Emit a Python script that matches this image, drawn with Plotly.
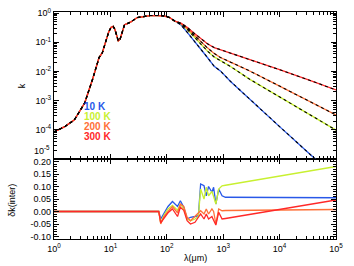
import plotly.graph_objects as go

# ---------------- data ----------------
# common part of k(lambda) (all temperatures identical)
lam_common = [1, 1.58, 2.3, 3.5, 4.8, 6.3, 7.2, 8.3, 9.3, 10.2, 11.2, 12, 12.9, 13.8, 14.8,
              15.8, 17.8, 20, 23, 30, 40, 51, 68, 89, 112]
k_common = [8.5e-5, 1.32e-4, 2.2e-4, 8.3e-4, 5.2e-3, 0.030, 0.044, 0.112, 0.224, 0.32, 0.35,
            0.28, 0.178, 0.112, 0.126, 0.19, 0.40, 0.44, 0.50, 0.71, 0.79, 0.83, 0.83, 0.81, 0.71]

lam_tail = [135, 178, 229, 302, 398, 525, 692, 891, 1349, 3020, 10000, 31623, 100000]
k_10K = [0.55, 0.398, 0.224, 0.117, 0.0603, 0.0302, 0.0151, 0.0105, 0.00457, 0.00107,
         1.29e-4, 1.70e-5, 2.29e-6]
k_100K = [0.55, 0.427, 0.282, 0.158, 0.0891, 0.0501, 0.0316, 0.0234, 0.0148, 0.00525,
          0.00132, 3.55e-4, 9.8e-5]
k_200K = [0.55, 0.437, 0.302, 0.182, 0.107, 0.0646, 0.0417, 0.0302, 0.0209, 0.0102,
          0.00316, 0.001, 3.24e-4]
k_300K = [0.55, 0.457, 0.331, 0.209, 0.135, 0.0891, 0.0661, 0.0562, 0.0427, 0.0257,
          0.0115, 0.00525, 0.00234]

# bottom panel: delta k (inter)
lam_d = [1, 72, 78, 89, 105, 126, 155, 174, 200, 229, 263, 316, 363, 398, 457, 501, 550,
         631, 676, 741, 832, 955, 1096, 100000]
dk_10K = [0, 0, -0.03, -0.005, 0.02, 0.04, 0.02, 0.043, 0.017, -0.03, -0.023, -0.02, -0.017,
          0.11, 0.103, 0.063, 0.10, 0.077, 0.097, 0.03, 0.09, 0.063, 0.057, 0.055]
dk_100K = [0, 0, -0.045, -0.015, 0.01, 0.025, 0.005, 0.03, 0.01, -0.03, -0.037, -0.03, -0.02,
           0.09, 0.05, 0.097, 0.063, 0.08, 0.06, 0.03, 0.09, 0.103, 0.105, 0.18]
dk_200K = [0, 0, -0.05, -0.02, 0.0, 0.02, -0.005, 0.03, 0.02, -0.023, -0.037, -0.02, -0.003,
           0.003, -0.01, 0.01, -0.01, 0.01, 0.0, -0.05, 0.01, 0.003, 0.004, 0.008]
dk_300K = [0, 0, -0.045, -0.025, -0.005, 0.01, -0.02, 0.017, 0.005, -0.037, -0.05, -0.043,
           -0.023, -0.01, -0.03, -0.01, -0.03, -0.02, -0.035, -0.054, -0.003, -0.03, -0.028, 0.046]

labels = ["10 K", "100 K", "200 K", "300 K"]
colors = ["#2858e8", "#c8f030", "#ff7038", "#ff2828"]

# ---------------- figure ----------------
fig = go.Figure()
series_k = [k_10K, k_100K, k_200K, k_300K]
series_dk = [dk_10K, dk_100K, dk_200K, dk_300K]

for ks, c in zip(series_k, colors):
    fig.add_trace(go.Scatter(x=lam_common + lam_tail, y=k_common + ks, mode="lines",
                             line=dict(color=c, width=1.3), xaxis="x2", yaxis="y2",
                             showlegend=False, hoverinfo="skip"))
for ks in series_k:
    fig.add_trace(go.Scatter(x=lam_common + lam_tail, y=k_common + ks, mode="lines",
                             line=dict(color="black", width=1.1, dash="3px,3px"),
                             xaxis="x2", yaxis="y2", showlegend=False, hoverinfo="skip"))

for d, c in zip(series_dk, colors):
    fig.add_trace(go.Scatter(x=lam_d, y=d, mode="lines", line=dict(color=c, width=1.3),
                             xaxis="x", yaxis="y", showlegend=False, hoverinfo="skip"))

fnt = dict(family="Liberation Sans, Arial, sans-serif", size=9, color="black")

xt_vals = [1, 10, 100, 1000, 10000, 100000]
xt_text = ["10<sup>%d</sup>" % i for i in range(6)]
x_minor = [m * 10 ** e for e in range(5) for m in range(2, 10)]

yt_vals = [1, 0.1, 0.01, 0.001, 1e-4, 1e-5]
yt_text = ["10<sup>0</sup>", "10<sup>-1</sup>", "10<sup>-2</sup>", "10<sup>-3</sup>",
           "10<sup>-4</sup>", ""]
y_minor = [m * 10 ** e for e in range(-5, 0) for m in range(2, 10)]

axcommon = dict(showline=True, linecolor="black", linewidth=1.2, mirror="ticks",
                ticks="inside", ticklen=5, tickcolor="black", showgrid=False,
                zeroline=False, tickfont=fnt, automargin=False)

top_frac = 0.3524
fig.update_layout(
    width=354, height=266,
    margin=dict(l=54, r=18, t=12, b=27, autoexpand=False),
    paper_bgcolor="white", plot_bgcolor="white",
    font=fnt,
    xaxis=dict(type="log", range=[0, 5], domain=[0, 1], anchor="y",
               tickmode="array", tickvals=xt_vals, ticktext=xt_text, ticklabelstandoff=1,
               minor=dict(tickvals=x_minor, ticks="inside", ticklen=3, tickcolor="black"),
               **axcommon),
    yaxis=dict(range=[-0.11, 0.21], domain=[0, top_frac], anchor="x",
               tickmode="array", tickvals=[-0.10, -0.05, 0.0, 0.05, 0.10, 0.15, 0.20],
               ticktext=["-0.10", "-0.05", "0.00", "0.05", "0.10", "0.15", "0.20"],
               minor=dict(dtick=0.01, ticks="inside", ticklen=3, tickcolor="black"),
               **axcommon),
    xaxis2=dict(type="log", range=[0, 5], domain=[0, 1], anchor="y2", matches="x",
                showticklabels=False, tickmode="array", tickvals=xt_vals,
                minor=dict(tickvals=x_minor, ticks="inside", ticklen=3, tickcolor="black"),
                **axcommon),
    yaxis2=dict(type="log", range=[-5, 0.04], domain=[top_frac, 1], anchor="x2",
                tickmode="array", tickvals=yt_vals, ticktext=yt_text,
                minor=dict(tickvals=y_minor, ticks="inside", ticklen=3, tickcolor="black"),
                **axcommon),
)

# 10^-5 label lifted slightly above the panel boundary, as in the reference
fig.add_annotation(xref="paper", yref="paper", x=-0.008, y=top_frac + 0.012,
                   text="10<sup>-5</sup>", showarrow=False, xanchor="right",
                   yanchor="bottom", font=fnt, yshift=-2)

annos = [
    dict(text="k", x=-0.113, y=0.674, textangle=-90),
    dict(text="\u03b4k(inter)", x=-0.15, y=0.172, textangle=-90),
    dict(text="\u03bb(\u03bcm)", x=0.5, y=-0.084),
]
for a in annos:
    fig.add_annotation(xref="paper", yref="paper", showarrow=False,
                       xanchor="center", yanchor="middle",
                       font=dict(family="Liberation Sans, Arial, sans-serif", size=9,
                                 color="black"), **a)

leg_y = [0.582, 0.538, 0.494, 0.450]
for lab, c, yy in zip(labels, colors, leg_y):
    fig.add_annotation(xref="paper", yref="paper", x=0.099, y=yy, text="<b>%s</b>" % lab,
                       showarrow=False, xanchor="left", yanchor="middle",
                       font=dict(family="Liberation Sans, Arial, sans-serif", size=10,
                                 color=c))

fig.write_html("out.html", config={"displayModeBar": False},
               post_script="document.body.style.margin='0';")
